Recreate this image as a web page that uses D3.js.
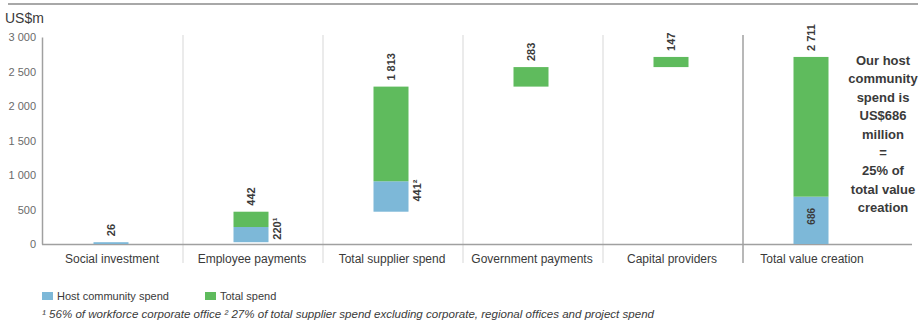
<!DOCTYPE html>
<html>
<head>
<meta charset="utf-8">
<script src="https://cdn.jsdelivr.net/npm/d3@7"></script>
<style>
  html, body { margin: 0; padding: 0; background: #fff; }
  svg { display: block; }
  text { font-family: "Liberation Sans Narrow", "Liberation Sans", Arial, sans-serif; fill: #3a3a3a; }
</style>
</head>
<body>
<svg id="chart" width="920" height="325"></svg>
<script>
// Value creation breakdown, US$ million
const categories = ["Social investment", "Employee payments", "Total supplier spend",
                    "Government payments", "Capital providers", "Total value creation"];
const totalSpend = [26, 442, 1813, 283, 147, 2711];
const hostSpend = [26, 220, 441, 0, 0, 686];
const hostLabels = ["", "220¹", "441²", "", "", "686"];
const yTicks = [0, 500, 1000, 1500, 2000, 2500, 3000];
const noteLines = ["Our host", "community", "spend is", "US$686", "million", "=", "25% of", "total value", "creation"];
const legendItems = ["Host community spend", "Total spend"];
const footnote = "¹ 56% of workforce corporate office ² 27% of total supplier spend excluding corporate, regional offices and project spend";

const colors = { host: "#7db8d8", total: "#5fbb5d" };
const svg = d3.select("#chart");

const x = d3.scaleBand().domain(categories).range([42, 882]).padding(0);
const y = d3.scaleLinear().domain([0, 3000]).range([244, 37]);
const fmt = d3.formatLocale({ decimal: ".", thousands: " ", grouping: [3], currency: ["", ""] }).format(",d");

// Waterfall: each contributor starts where the previous one ended; the last bar is the full total.
let running = 0;
const rows = categories.map((c, i) => {
  const last = i === categories.length - 1;
  const base = last ? 0 : running;
  if (!last) running += totalSpend[i];
  return { cat: c, base, total: totalSpend[i], host: hostSpend[i], hostLabel: hostLabels[i], last };
});

// top rule
svg.append("line").attr("x1", 8).attr("x2", 918).attr("y1", 4).attr("y2", 4)
  .attr("stroke", "#a8a8a8").attr("stroke-width", 2);

// unit
svg.append("text").attr("x", 5).attr("y", 23).attr("font-size", 14).text("US$m");

// category dividers
categories.slice(1).forEach((c, i) => {
  const xx = x(c) + 1;
  const isLast = i === categories.length - 2;
  svg.append("line").attr("x1", xx).attr("x2", xx)
    .attr("y1", 35).attr("y2", 263)
    .attr("stroke", isLast ? "#b8b8b8" : "#e4e4e4").attr("stroke-width", isLast ? 2 : 1.5);
});

// y axis
const yAxis = svg.append("g").attr("transform", "translate(42,0)")
  .call(d3.axisLeft(y).tickValues(yTicks).tickSize(0).tickPadding(6).tickFormat(fmt));
yAxis.select(".domain").attr("stroke", "#a0a0a0").attr("stroke-width", 1.5);
yAxis.selectAll("text").attr("font-size", 11).style("fill", "#6a6a6a")
  .style("font-family", "'Liberation Sans Narrow', 'Liberation Sans', sans-serif");

// baseline
svg.append("line").attr("x1", 42).attr("x2", 912).attr("y1", y(0) + 0.5).attr("y2", y(0) + 0.5)
  .attr("stroke", "#a0a0a0").attr("stroke-width", 1.5);

// category labels
const xAxis = svg.append("g").attr("transform", `translate(0,${y(0)})`)
  .call(d3.axisBottom(x).tickSize(0).tickPadding(10));
xAxis.select(".domain").remove();
xAxis.selectAll("text").attr("font-size", 12).style("fill", "#3a3a3a")
  .style("font-family", "'Liberation Sans Narrow', 'Liberation Sans', sans-serif");

const bw = 35;
const cx = d => x(d.cat) + x.bandwidth() / 2 - 1;

// bars: host community part at the bottom, remainder of total on top
const bars = svg.append("g");
rows.forEach(d => {
  if (d.host > 0) {
    bars.append("rect").attr("x", cx(d) - bw / 2).attr("width", bw)
      .attr("y", y(d.base + d.host)).attr("height", y(d.base) - y(d.base + d.host))
      .attr("fill", colors.host);
  }
  if (d.total - d.host > 0) {
    bars.append("rect").attr("x", cx(d) - bw / 2).attr("width", bw)
      .attr("y", y(d.base + d.total)).attr("height", y(d.base + d.host) - y(d.base + d.total))
      .attr("fill", colors.total);
  }
});

// total value labels above each bar, rotated
rows.forEach(d => {
  const ty = y(d.base + d.total) - 6;
  svg.append("text")
    .attr("transform", `translate(${cx(d)},${ty}) rotate(-90)`)
    .attr("text-anchor", "start").attr("dominant-baseline", "central")
    .attr("font-size", 11).attr("font-weight", "bold").text(fmt(d.total));
});

// host community labels
rows.forEach(d => {
  if (!d.hostLabel) return;
  const midY = (y(d.base) + y(d.base + d.host)) / 2;
  const lx = d.last ? cx(d) : cx(d) + bw / 2 + 8;
  const ly = d.last ? midY - 4 : midY - 6;
  svg.append("text")
    .attr("transform", `translate(${lx},${ly}) rotate(-90)`)
    .attr("text-anchor", "middle").attr("dominant-baseline", "central")
    .attr("font-size", d.last ? 10 : 11).attr("font-weight", "bold").text(d.hostLabel);
});

// side note
svg.append("text").attr("x", 883).attr("y", 65).attr("text-anchor", "middle")
  .attr("font-size", 13).attr("font-weight", "bold")
  .selectAll("tspan").data(noteLines).join("tspan")
  .attr("x", 883).attr("dy", (d, i) => i === 0 ? 0 : 18.4).text(d => d);

// legend
const legend = svg.append("g").attr("transform", "translate(42,292)");
[[0, colors.host, legendItems[0]], [163, colors.total, legendItems[1]]].forEach(([dx, col, label]) => {
  legend.append("rect").attr("x", dx).attr("y", 0).attr("width", 11).attr("height", 8).attr("fill", col);
  legend.append("text").attr("x", dx + 15).attr("y", 8).attr("font-size", 11).text(label);
});

// footnote
svg.append("text").attr("x", 42).attr("y", 318).attr("font-size", 10.5)
  .attr("font-style", "italic")
  .attr("textLength", 612).attr("lengthAdjust", "spacingAndGlyphs")
  .text(footnote);
</script>
</body>
</html>
